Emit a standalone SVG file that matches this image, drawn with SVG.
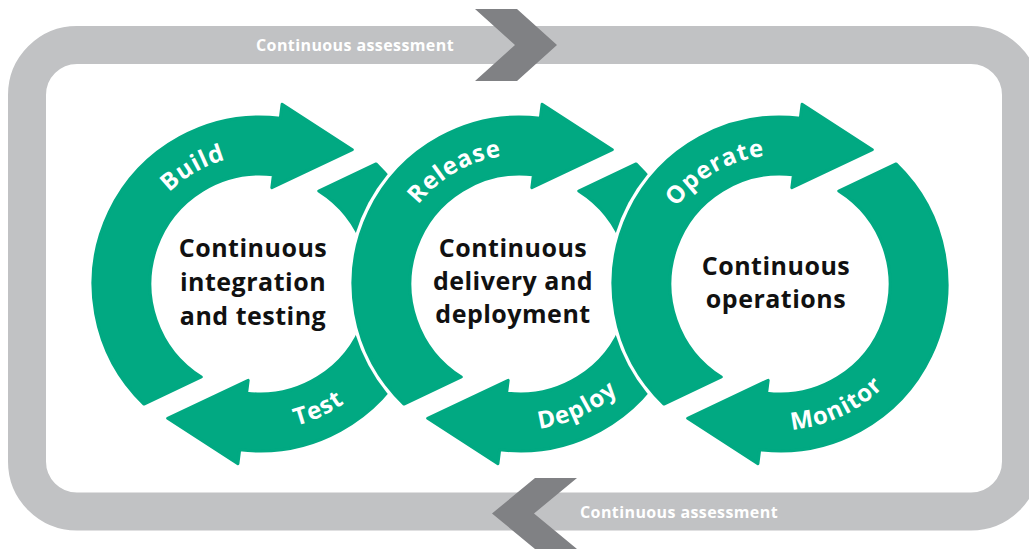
<svg xmlns="http://www.w3.org/2000/svg" width="1029" height="549" viewBox="0 0 1029 549">
<defs>
<style>
.band{fill:none;stroke:#c1c2c4;stroke-width:38}
.chev{fill:#808184}
.bandtxt{font-family:"Open Sans","Liberation Sans",sans-serif;font-weight:700;font-size:16px;letter-spacing:0.4px;fill:#fff;text-anchor:middle}
.ring{fill:#01a982;stroke:#01a982;stroke-width:3;stroke-linejoin:round}
.disc{fill:#fff}
.lbl{font-family:"Open Sans","Liberation Sans",sans-serif;font-weight:700;font-size:24px;letter-spacing:1px;fill:#fff;text-anchor:middle}
.ctr{font-family:"Open Sans","Liberation Sans",sans-serif;font-weight:700;font-size:25px;letter-spacing:0.5px;fill:#111;text-anchor:middle}
</style>
<path id="pieceB" d="M116.04,-120.10 A167,167 0 0 1 -20.35,165.76 L-22.06,179.65 L-92.32,134.33 L-11.82,96.28 L-13.41,109.18 A110,110 0 0 0 58.72,-93.01 Z"/>
<path id="arcTop" d="M-129,0 A129,129 0 0 1 64.5,-111.72"/>
<path id="arcBot" d="M-83.74,119.60 A146,146 0 0 0 145.44,12.72"/>
</defs>
<rect width="1029" height="549" fill="#fff"/>
<g id="connectors">
<rect class="band" x="27" y="45" width="994" height="466.5" rx="50" ry="50"/>
<polygon class="chev" points="475,9 517,9 557,45 517,81 475,81 515,45"/>
<polygon class="chev" points="577,478 535,478 492,513.5 535,549 577,549 534,513.5"/>
<text class="bandtxt" x="355" y="51">Continuous assessment</text>
<text class="bandtxt" x="679" y="518">Continuous assessment</text>
</g>
<g id="ci" transform="translate(260,284)">
<circle class="disc" r="172"/>
<use class="ring" href="#pieceB"/>
<use class="ring" href="#pieceB" transform="rotate(180)"/>
<text class="lbl"><textPath href="#arcTop" startOffset="50%">Build</textPath></text>
<text class="lbl"><textPath href="#arcBot" startOffset="50%">Test</textPath></text>
<text class="ctr" x="-7" y="-27">Continuous</text>
<text class="ctr" x="-7" y="7">integration</text>
<text class="ctr" x="-7" y="41">and testing</text>
</g>
<g id="cd" transform="translate(520,284)">
<circle class="disc" r="172"/>
<use class="ring" href="#pieceB"/>
<use class="ring" href="#pieceB" transform="rotate(180)"/>
<text class="lbl"><textPath href="#arcTop" startOffset="50%">Release</textPath></text>
<text class="lbl"><textPath href="#arcBot" startOffset="50%">Deploy</textPath></text>
<text class="ctr" x="-7" y="-27">Continuous</text>
<text class="ctr" x="-7" y="6">delivery and</text>
<text class="ctr" x="-7" y="39">deployment</text>
</g>
<g id="co" transform="translate(780,284)">
<circle class="disc" r="172"/>
<use class="ring" href="#pieceB"/>
<use class="ring" href="#pieceB" transform="rotate(180)"/>
<text class="lbl"><textPath href="#arcTop" startOffset="50%">Operate</textPath></text>
<text class="lbl"><textPath href="#arcBot" startOffset="50%">Monitor</textPath></text>
<text class="ctr" x="-4" y="-9">Continuous</text>
<text class="ctr" x="-4" y="24">operations</text>
</g>
</svg>
